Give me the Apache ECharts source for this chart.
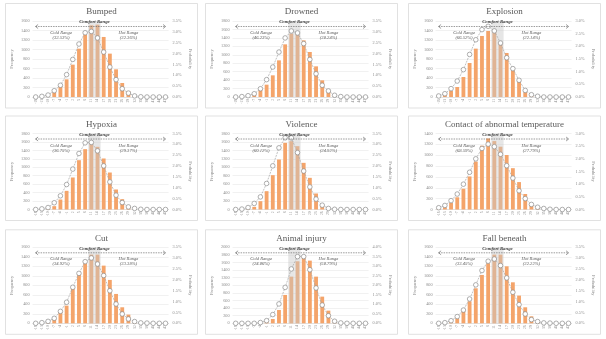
<!DOCTYPE html>
<html>
<head>
<meta charset="utf-8">
<script src="https://cdn.jsdelivr.net/npm/echarts@6/dist/echarts.min.js"></script>
<style>
  html, body { margin: 0; padding: 0; background: #fff; }
  #chart { width: 606px; height: 339px; }
</style>
</head>
<body>
<div id="chart"></div>
<script>
// temperature bins on the x axis
const tempBins = ['-16', '-13', '-10', '-7', '-4', '-1', '2', '5', '8', '11', '14',
  '17', '20', '23', '26', '29', '32', '35', '38', '41', '44', '47'];
const comfortIdx = [9, 10];

const titles = ['Bumped', 'Drowned', 'Explosion', 'Hypoxia', 'Violence',
  'Contact of abnormal temperature', 'Cut', 'Animal injury', 'Fall beneath'];
const coldShare = ['32.53%', '46.23%', '66.52%', '36.75%', '60.12%', '68.59%', '34.92%', '24.86%', '33.45%'];
const hotShare = ['32.36%', '38.24%', '22.14%', '29.37%', '24.92%', '27.79%', '33.38%', '58.79%', '32.22%'];
const freqMax = [1600, 1800, 1600, 1800, 1800, 1400, 1600, 2000, 1600];
const probMax = [3.5, 3.5, 3.0, 3.5, 3.5, 3.0, 3.5, 4.0, 3.5];

// frequency (bars) and probability in % (line) per injury type
const bumpedFreq = [0, 0, 15, 100, 225, 372, 681, 1018, 1313, 1509, 1523, 1264, 913, 583, 295, 126, 10, 0, 0, 0, 0, 0];
const bumpedProb = [0, 0.03, 0.09, 0.29, 0.54, 1.03, 1.73, 2.44, 2.96, 3.02, 2.72, 2.07, 1.38, 0.80, 0.38, 0.18, 0.05, 0.01, 0, 0, 0, 0];
const drownedFreq = [0, 0, 10, 79, 174, 292, 513, 868, 1247, 1500, 1500, 1342, 1066, 726, 395, 142, 15, 0, 0, 0, 0, 0];
const drownedProb = [0, 0.02, 0.06, 0.15, 0.38, 0.80, 1.38, 2.07, 2.72, 3.04, 2.95, 2.46, 1.73, 1.07, 0.54, 0.28, 0.08, 0.02, 0, 0, 0, 0];
const explosionFreq = [10, 49, 126, 211, 421, 716, 1018, 1285, 1390, 1369, 1123, 927, 618, 351, 105, 21, 0, 0, 0, 0, 0, 0];
const explosionProb = [0.04, 0.13, 0.33, 0.63, 1.08, 1.68, 2.26, 2.66, 2.79, 2.61, 2.13, 1.55, 1.12, 0.66, 0.26, 0.09, 0.03, 0, 0, 0, 0, 0];
const hypoxiaFreq = [0, 0, 10, 79, 237, 442, 758, 1168, 1429, 1579, 1484, 1208, 876, 474, 245, 79, 10, 0, 0, 0, 0, 0];
const hypoxiaProb = [0, 0.03, 0.09, 0.31, 0.63, 1.15, 1.86, 2.58, 3.07, 3.09, 2.70, 2.01, 1.27, 0.66, 0.32, 0.12, 0.05, 0.01, 0, 0, 0, 0];
const violenceFreq = [0, 0, 10, 63, 197, 434, 813, 1184, 1579, 1618, 1500, 1105, 750, 379, 103, 24, 0, 0, 0, 0, 0, 0];
const violenceProb = [0, 0.02, 0.09, 0.28, 0.58, 1.20, 2.01, 2.84, 3.30, 3.30, 2.62, 1.77, 1.04, 0.48, 0.20, 0.05, 0.01, 0, 0, 0, 0, 0];
const contactFreq = [18, 43, 122, 225, 383, 609, 883, 1175, 1309, 1260, 1157, 1004, 761, 505, 286, 79, 30, 0, 0, 0, 0, 0];
const contactProb = [0.07, 0.16, 0.35, 0.61, 1.00, 1.47, 2.00, 2.41, 2.58, 2.48, 2.18, 1.73, 1.24, 0.74, 0.43, 0.20, 0.09, 0.04, 0.01, 0, 0, 0];
const cutFreq = [0, 0, 10, 91, 253, 372, 723, 1074, 1285, 1446, 1446, 1214, 913, 618, 337, 183, 10, 0, 0, 0, 0, 0];
const cutProb = [0, 0.03, 0.09, 0.23, 0.55, 0.97, 1.66, 2.30, 2.84, 3.01, 2.73, 2.20, 1.50, 0.89, 0.43, 0.20, 0.08, 0.02, 0.01, 0, 0, 0];
const animalFreq = [0, 0, 0, 0, 0, 44, 114, 351, 746, 1228, 1632, 1737, 1649, 1228, 702, 333, 88, 0, 0, 0, 0, 0];
const animalProb = [0, 0, 0, 0, 0.04, 0.14, 0.46, 1.02, 1.89, 2.86, 3.51, 3.51, 2.82, 1.86, 0.96, 0.40, 0.11, 0.02, 0, 0, 0, 0];
const fallFreq = [0, 0, 42, 105, 253, 463, 737, 1018, 1264, 1446, 1446, 1200, 863, 583, 337, 147, 28, 0, 0, 0, 0, 0];
const fallProb = [0, 0.03, 0.12, 0.31, 0.61, 1.12, 1.77, 2.43, 2.86, 2.96, 2.66, 2.09, 1.43, 0.86, 0.43, 0.17, 0.08, 0.02, 0.01, 0, 0, 0];

const freqData = [bumpedFreq, drownedFreq, explosionFreq, hypoxiaFreq, violenceFreq, contactFreq, cutFreq, animalFreq, fallFreq];
const probData = [bumpedProb, drownedProb, explosionProb, hypoxiaProb, violenceProb, contactProb, cutProb, animalProb, fallProb];

// layout
const colLeft = [32.6, 232.6, 435.6];
const rowTop = [21, 133.5, 247.3];
const gridW = 136;
const gridH = 76;
const serif = '"Liberation Serif", "Times New Roman", serif';

const chart = echarts.init(document.getElementById('chart'));

const grids = [], xAxes = [], yAxes = [], series = [], graphics = [];

for (let i = 0; i < 9; i++) {
  const col = i % 3, row = Math.floor(i / 3);
  const gl = colLeft[col], gt = rowTop[row];
  const cell = gridW / tempBins.length;

  grids.push({ left: gl, top: gt, width: gridW, height: gridH, containLabel: false, outerBoundsMode: 'none' });

  xAxes.push({
    type: 'category', gridIndex: i, data: tempBins,
    axisLine: { lineStyle: { color: '#D9D9D9', width: 0.6 } },
    axisTick: { show: false },
    axisLabel: { interval: 0, rotate: 90, fontSize: 3.6, color: '#8C8C8C', margin: 2, fontFamily: serif }
  });
  // hidden axis that carries the comfort band
  xAxes.push({ type: 'category', gridIndex: i, data: tempBins, show: false });

  yAxes.push({
    type: 'value', gridIndex: i, min: 0, max: freqMax[i], interval: 200,
    name: 'Frequency', nameLocation: 'middle', nameGap: 18, nameRotate: 90,
    nameTextStyle: { fontSize: 4.6, color: '#8C8C8C', fontFamily: serif },
    axisLine: { show: false }, axisTick: { show: false },
    axisLabel: { fontSize: 4.3, color: '#8C8C8C', margin: 3, fontFamily: serif,
      formatter: v => String(v) },
    splitLine: { lineStyle: { color: '#E3E3E3', width: 0.5 } }
  });
  yAxes.push({
    type: 'value', gridIndex: i, min: 0, max: probMax[i], interval: 0.5, position: 'right',
    name: 'Probability', nameLocation: 'middle', nameGap: 19, nameRotate: -90,
    nameTextStyle: { fontSize: 4.6, color: '#8C8C8C', fontFamily: serif },
    axisLine: { show: false }, axisTick: { show: false },
    axisLabel: { fontSize: 4.3, color: '#8C8C8C', margin: 4, fontFamily: serif,
      formatter: v => v.toFixed(1) + '%' },
    splitLine: { show: false }
  });

  series.push({
    type: 'bar', xAxisIndex: 2 * i, yAxisIndex: 2 * i, data: freqData[i],
    barWidth: '62%', itemStyle: { color: '#F4A46A' }, z: 2, silent: true
  });
  series.push({
    type: 'bar', xAxisIndex: 2 * i + 1, yAxisIndex: 2 * i,
    data: tempBins.map((b, k) => comfortIdx.includes(k) ? freqMax[i] : '-'),
    barWidth: '100%', itemStyle: { color: 'rgba(200,200,200,0.45)' }, z: 3, silent: true
  });
  series.push({
    type: 'line', xAxisIndex: 2 * i, yAxisIndex: 2 * i + 1, data: probData[i],
    symbol: 'circle', symbolSize: 4.6, showAllSymbol: true,
    lineStyle: { color: '#A6A6A6', width: 0.7, type: [2, 1] },
    itemStyle: { color: '#FFFFFF', borderColor: '#8C8C8C', borderWidth: 0.7 },
    z: 4, silent: true
  });

  // panel frame and title
  graphics.push({
    type: 'rect', silent: true, z: 0,
    shape: { x: gl - 27.6 + 0.5, y: gt - 18 + 0.5, width: 192, height: 104.5 },
    style: { fill: 'none', stroke: '#D9D9D9', lineWidth: 0.8 }
  });
  graphics.push({
    type: 'text', silent: true, x: gl - 27.6 + 96.5, y: gt - 9,
    style: { text: titles[i], font: '9px ' + serif, fill: '#595959', align: 'center', verticalAlign: 'middle' }
  });

  // double arrow across the range
  const ay = gt + 5.5, ax1 = gl + 3, ax2 = gl + gridW - 3;
  graphics.push({
    type: 'line', silent: true, z: 10,
    shape: { x1: ax1, y1: ay, x2: ax2, y2: ay },
    style: { stroke: '#595959', lineWidth: 0.6, lineDash: [1.5, 1] }
  });
  graphics.push({
    type: 'polyline', silent: true, z: 10,
    shape: { points: [[ax1 + 2.5, ay - 2], [ax1, ay], [ax1 + 2.5, ay + 2]] },
    style: { stroke: '#595959', lineWidth: 0.6, fill: 'none' }
  });
  graphics.push({
    type: 'polyline', silent: true, z: 10,
    shape: { points: [[ax2 - 2.5, ay - 2], [ax2, ay], [ax2 - 2.5, ay + 2]] },
    style: { stroke: '#595959', lineWidth: 0.6, fill: 'none' }
  });
  graphics.push({
    type: 'text', silent: true, z: 10, x: gl + cell * 10, y: gt + 1,
    style: { text: 'Comfort Range', font: 'italic bold 4.8px ' + serif, fill: '#404040', align: 'center', verticalAlign: 'middle' }
  });
  graphics.push({
    type: 'text', silent: true, z: 10, x: gl + cell * 4.6, y: gt + 14.3,
    style: { text: 'Cold Range\n(' + coldShare[i] + ')', font: 'italic 4.6px ' + serif, lineHeight: 5, fill: '#595959', align: 'center', verticalAlign: 'middle' }
  });
  graphics.push({
    type: 'text', silent: true, z: 10, x: gl + cell * 15.5, y: gt + 14.3,
    style: { text: 'Hot Range\n(' + hotShare[i] + ')', font: 'italic 4.6px ' + serif, lineHeight: 5, fill: '#595959', align: 'center', verticalAlign: 'middle' }
  });
}

const option = {
  animation: false,
  backgroundColor: '#FFFFFF',
  grid: grids,
  xAxis: xAxes,
  yAxis: yAxes,
  series: series,
  graphic: { elements: graphics }
};

chart.setOption(option);
</script>
</body>
</html>
